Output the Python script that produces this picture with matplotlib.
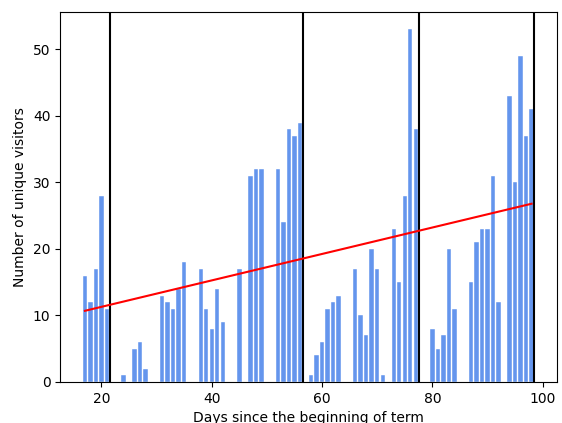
import numpy as np
import matplotlib
matplotlib.use("Agg")
import matplotlib.pyplot as plt

# daily unique visitors (days with no visitors omitted)
days = [17, 18, 19, 20, 21, 24, 26, 27, 28, 31, 32, 33, 34, 35,
        38, 39, 40, 41, 42, 45, 47, 48, 49, 52, 53, 54, 55, 56,
        58, 59, 60, 61, 62, 63, 66, 67, 68, 69, 70, 71, 73, 74, 75, 76, 77,
        80, 81, 82, 83, 84, 87, 88, 89, 90, 91, 92, 94, 95, 96, 97, 98]
visitors = [16, 12, 17, 28, 11, 1, 5, 6, 2, 13, 12, 11, 14, 18,
            17, 11, 8, 14, 9, 17, 31, 32, 32, 32, 24, 38, 37, 39,
            1, 4, 6, 11, 12, 13, 17, 10, 7, 20, 17, 1, 23, 15, 28, 53, 38,
            8, 5, 7, 20, 11, 15, 21, 23, 23, 31, 12, 43, 30, 49, 37, 41]

# term boundaries (vertical lines)
boundaries = [21.6, 56.5, 77.5, 98.5]

# trend line end points
trend_x = [17, 98]
trend_y = [10.7, 26.8]


def create_graph():
    fig = plt.figure(figsize=(5.62, 4.23), dpi=100)
    ax = fig.add_axes([0.107, 0.097, 0.884, 0.875])

    ax.bar(days, visitors, width=0.8, color="cornflowerblue",
           edgecolor="white", linewidth=0.3)
    for b in boundaries:
        ax.axvline(b, color="black", linewidth=1.5)
    ax.plot(trend_x, trend_y, color="red", linewidth=1.5)

    ax.set_xlabel("Days since the beginning of term")
    ax.set_ylabel("Number of unique visitors")
    ax.set_xticks([20, 40, 60, 80, 100])
    ax.set_yticks([0, 10, 20, 30, 40, 50])

    fig.savefig("out.png", dpi=100)


def main():
    create_graph()


if __name__ == "__main__":
    main()
